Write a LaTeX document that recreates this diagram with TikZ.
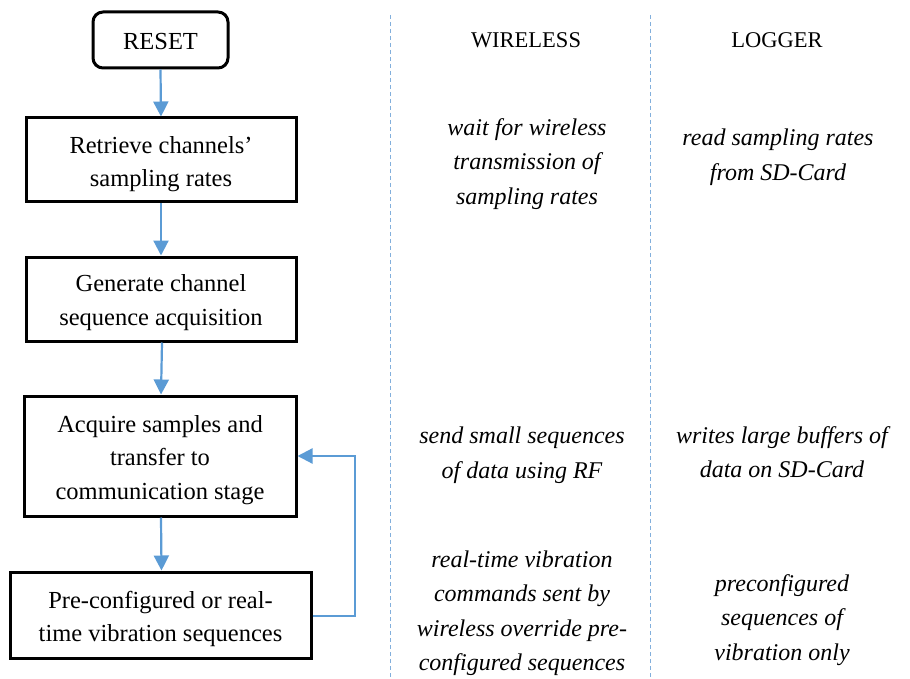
\documentclass[tikz,border=0pt]{standalone}
\usepackage{fontspec}
\setmainfont{Liberation Serif}
\usetikzlibrary{arrows.meta}
\definecolor{flowblue}{RGB}{91,155,213}
\definecolor{sepblue}{RGB}{130,175,220}
\tikzset{
  stepbox/.style={draw=black, line width=3pt, minimum width=#1, inner sep=0pt},
  boxtext/.style={align=center, inner sep=0pt, font=\fontsize{24.5}{33.5}\selectfont},
  flow/.style={draw=flowblue, line width=2.2pt, -{Triangle[width=15pt,length=15pt]}},
  note/.style={align=center, font=\fontsize{24}{34.5}\selectfont\itshape},
  head/.style={font=\fontsize{22.5}{25}\selectfont},
  sep/.style={draw=sepblue, line width=1pt, dash pattern=on 4pt off 3pt}
}
\begin{document}
\begin{tikzpicture}[x=1pt,y=-1pt]
\useasboundingbox (0,0) rectangle (910,679);
% boxes
\node[stepbox=135pt, minimum height=56pt, rounded corners=10pt] (reset) at (160.5,40) {};
\node[stepbox=270pt, minimum height=84pt] (retrieve) at (161,160) {};
\node[stepbox=270pt, minimum height=84pt] (generate) at (161,299) {};
\node[stepbox=272pt, minimum height=120pt] (acquire) at (160,456) {};
\node[stepbox=301pt, minimum height=86pt] (preconf) at (160.5,615) {};
% box texts
\node[boxtext] (reset-t) at ([yshift=-1.5pt]reset.center) {RESET};
\node[boxtext] (retrieve-t) at ([yshift=-4pt]retrieve.center) {Retrieve channels'\\sampling rates};
\node[boxtext] (generate-t) at ([yshift=-3.5pt]generate.center) {Generate channel\\sequence acquisition};
\node[boxtext] (acquire-t) at ([yshift=-4pt]acquire.center) {Acquire samples and\\transfer to\\communication stage};
\node[boxtext] (preconf-t) at ([yshift=-4pt]preconf.center) {Pre-configured or real-\\time vibration sequences};
% connectors
\draw[flow] (reset.south) -- (retrieve.north);
\draw[flow] (retrieve.south) -- (generate.north);
\draw[flow] ([xshift=1pt]generate.south) -- ([xshift=1pt]acquire.north);
\draw[flow] ([xshift=1pt]acquire.south) -- ([xshift=1pt]preconf.north);
\coordinate (loopr) at (355,616);
\draw[flow] (preconf.east |- loopr) -- (loopr) -- (loopr |- acquire.east) -- (acquire.east);
% separators
\coordinate (s1t) at (390,15); \coordinate (s1b) at (390,679);
\coordinate (s2t) at (650,15); \coordinate (s2b) at (650,679);
\draw[sep] (s1t) -- (s1b);
\draw[sep] (s2t) -- (s2b);
% headers
\node[head] (hw) at (526,40) {WIRELESS};
\node[head] (hl) at (777,40) {LOGGER};
% notes
\node[note] (w1) at (527,164) {wait for wireless\\transmission of\\sampling rates};
\node[note] (l1) at (778,157) {read sampling rates\\from SD-Card};
\node[note] (w2) at (522,455) {send small sequences\\of data using RF};
\node[note] (l2) at (782,452) {writes large buffers of\\data on SD-Card};
\node[note] (w3) at (522,613) {real-time vibration\\commands sent by\\wireless override pre-\\configured sequences};
\node[note] (l3) at (782,620) {preconfigured\\sequences of\\vibration only};
\end{tikzpicture}
\end{document}
